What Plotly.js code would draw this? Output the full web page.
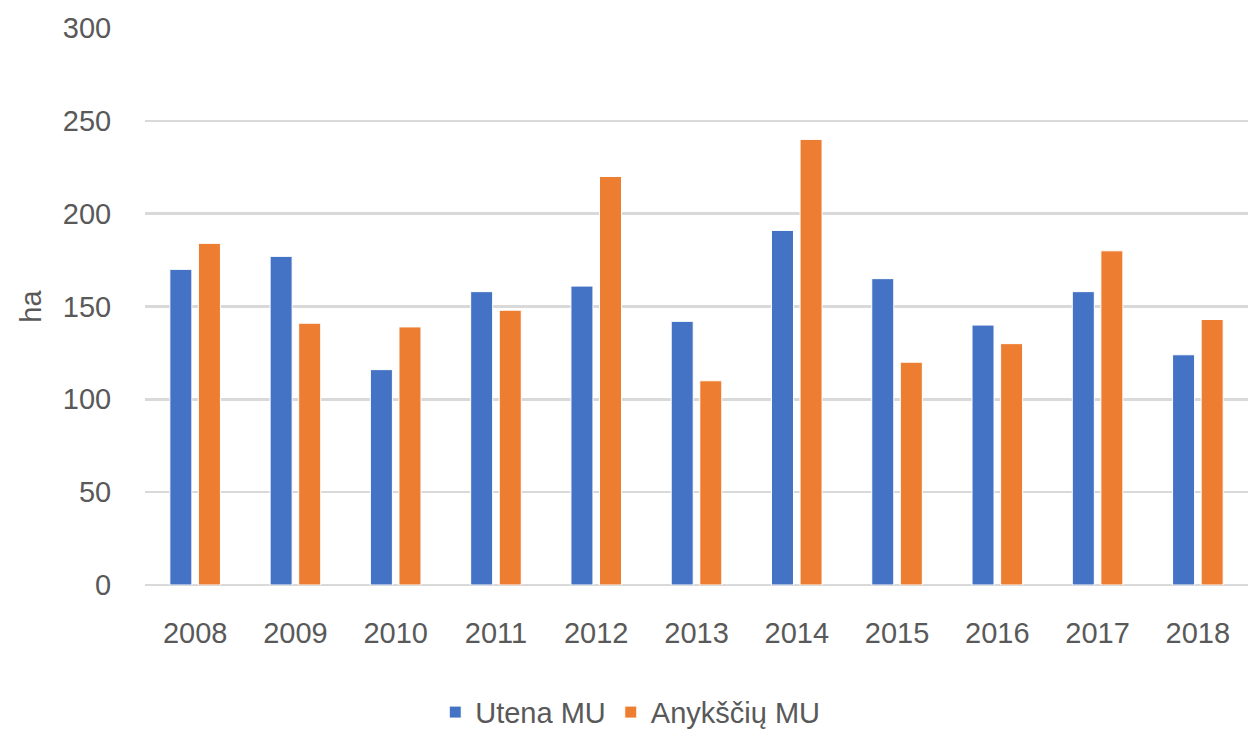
<!DOCTYPE html>
<html>
<head>
<meta charset="utf-8">
<script src="https://cdn.plot.ly/plotly-3.0.1.min.js"></script>
<style>html,body{margin:0;padding:0;background:#fff;}#chart{width:1248px;height:732px;}</style>
</head>
<body>
<div id="chart"></div>
<script>
const years = ['2008','2009','2010','2011','2012','2013','2014','2015','2016','2017','2018'];
const utena = [170, 177, 116, 158, 161, 142, 191, 165, 140, 158, 124];
const anyksciai = [184, 141, 139, 148, 220, 110, 240, 120, 130, 180, 143];
const seriesNames = ['Utena MU', 'Anykščių MU'];
const yTicks = [0, 50, 100, 150, 200, 250, 300];

const font = {family: '"Liberation Sans", Arial, sans-serif', color: '#595959'};
const FS = 29;

const traces = [
  {type: 'bar', name: seriesNames[0], x: years, y: utena,
   marker: {color: '#4472C4', line: {color: '#ffffff', width: 1}}},
  {type: 'bar', name: seriesNames[1], x: years, y: anyksciai,
   marker: {color: '#ED7D31', line: {color: '#ffffff', width: 1}}}
];

const layout = {
  width: 1248, height: 732,
  margin: {l: 145, r: 0, t: 28, b: 147},
  paper_bgcolor: '#ffffff', plot_bgcolor: '#ffffff',
  barmode: 'group', bargap: 0.43, bargroupgap: 0.23,
  font: Object.assign({size: FS}, font),
  xaxis: {
    type: 'category', showgrid: false, showline: false, zeroline: false,
    ticks: 'outside', ticklen: 22, tickcolor: 'rgba(0,0,0,0)',
    tickfont: Object.assign({size: FS}, font)
  },
  yaxis: {
    range: [0, 300], tickvals: yTicks, showline: false,
    gridcolor: '#d9d9d9', gridwidth: 2.5,
    zeroline: true, zerolinecolor: '#d9d9d9', zerolinewidth: 2.5,
    ticks: 'outside', ticklen: 27, tickcolor: 'rgba(0,0,0,0)',
    tickfont: Object.assign({size: FS}, font),
    title: {text: 'ha', font: Object.assign({size: FS}, font), standoff: 12}
  },
  legend: {
    orientation: 'h', xref: 'container', yref: 'container',
    x: 0.505, xanchor: 'center', y: 0.027, yanchor: 'middle',
    font: Object.assign({size: FS}, font), itemwidth: 30, traceorder: 'normal'
  },
  showlegend: true
};

Plotly.newPlot('chart', traces, layout, {displayModeBar: false, staticPlot: true});
</script>
</body>
</html>
